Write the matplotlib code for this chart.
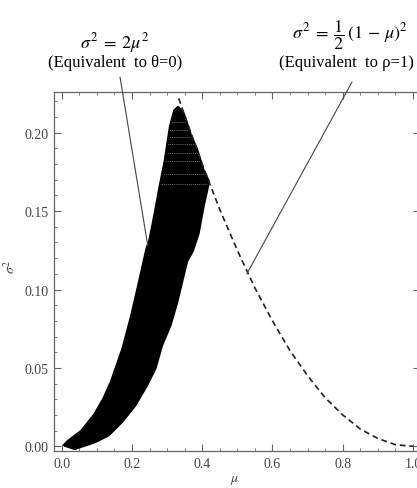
import matplotlib
matplotlib.use('Agg')
import matplotlib.pyplot as plt
from matplotlib.ticker import MultipleLocator

# === Data ===
# black cloud of feasible (mu, sigma^2) points, outline
cloud_left_mu = [0.0085, 0.018, 0.056, 0.094, 0.121, 0.142, 0.175, 0.200,
                 0.222, 0.243, 0.251, 0.266, 0.280, 0.295, 0.310, 0.322, 0.331]
cloud_left_s2 = [0.0008, 0.003, 0.0094, 0.020, 0.0306, 0.0412, 0.0624, 0.0836,
                 0.105, 0.126, 0.131, 0.148, 0.165, 0.182, 0.204, 0.214, 0.216]
cloud_right_mu = [0.346, 0.365, 0.384, 0.402, 0.417, 0.412, 0.402, 0.388,
                  0.372, 0.355, 0.341, 0.327, 0.308, 0.284, 0.265, 0.241,
                  0.208, 0.170, 0.132, 0.094, 0.037]
cloud_right_s2 = [0.212, 0.199, 0.189, 0.176, 0.169, 0.163, 0.153, 0.136,
                  0.125, 0.118, 0.105, 0.092, 0.0773, 0.0646, 0.0497, 0.039,
                  0.0263, 0.0157, 0.0072, 0.003, -0.0013]

# faint gaps between rows of points near the top of the cloud
row_gaps_s2 = [0.207, 0.202, 0.197, 0.193, 0.187, 0.182, 0.174, 0.167]

# dashed boundary sigma^2 = (1 - mu)^2 / 2
bound_mu = [0.333, 0.35, 0.40, 0.45, 0.50, 0.55, 0.60, 0.65, 0.70, 0.75,
            0.80, 0.85, 0.90, 0.95, 1.00]
bound_s2 = [0.222, 0.211, 0.180, 0.151, 0.125, 0.101, 0.080, 0.061, 0.045,
            0.031, 0.020, 0.011, 0.005, 0.001, 0.000]

# annotation targets (data coords)
left_target = (0.245, 0.128)
right_target = (0.527, 0.110)

plt.rcParams['font.family'] = ['Liberation Serif', 'DejaVu Serif']
plt.rcParams['mathtext.fontset'] = 'stix'

W, H = 417, 489
fig = plt.figure(figsize=(W / 100, H / 100), dpi=100)
ax = fig.add_axes([54 / W, 1 - 452 / H, (420 - 54) / W, (452 - 93) / H])

poly_mu = cloud_left_mu + cloud_right_mu
poly_s2 = cloud_left_s2 + cloud_right_s2
cloud, = ax.fill(poly_mu, poly_s2, color='black', lw=2.5, ec='black',
                 joinstyle='round', zorder=2)
gaps = ax.hlines(row_gaps_s2, 0.2, 0.45, colors='white', lw=0.5,
                 linestyles=(0, (1.5, 1.5)), alpha=0.6, zorder=3)
gaps.set_clip_path(cloud)

ax.plot(bound_mu, bound_s2, color='#222222', lw=1.2, ls=(0, (3.5, 2.3)), zorder=4)

ax.set_xlim(-0.022, 1.02)
ax.set_ylim(-0.003, 0.226)

ax.xaxis.set_major_locator(MultipleLocator(0.2))
ax.xaxis.set_minor_locator(MultipleLocator(0.05))
ax.yaxis.set_major_locator(MultipleLocator(0.05))
ax.yaxis.set_minor_locator(MultipleLocator(0.01))
ax.xaxis.set_major_formatter(plt.FuncFormatter(lambda v, p: f'{v:.1f}'))
ax.yaxis.set_major_formatter(plt.FuncFormatter(lambda v, p: f'{v:.2f}'))

frame_col = '#666666'
for sp in ax.spines.values():
    sp.set_color(frame_col)
    sp.set_linewidth(0.9)
ax.tick_params(which='both', direction='in', top=True, right=True,
               color=frame_col, labelcolor='#444444', labelsize=10, pad=4)
ax.tick_params(which='major', length=5, width=0.8)
ax.tick_params(which='minor', length=2.5, width=0.6)

ax.set_xlabel(r'$\mu$', fontsize=10, color='#444444')
ax.set_ylabel(r'$\sigma^2$', fontsize=10, color='#444444')
ax.xaxis.set_label_coords((235 - 54) / 366, (452 - 474) / 359)
ax.yaxis.set_label_coords((18 - 54) / 366, (452 - 267) / 359)

# annotations above the frame
fig.text(115 / W, 1 - 43 / H, r'$\sigma^2\;=\;2\mu^2$', fontsize=13,
         ha='center', va='center')
fig.text(115 / W, 1 - 63 / H, '(Equivalent  to θ=0)', fontsize=12,
         ha='center', va='center')
fig.text(350 / W, 1 - 35 / H, r'$\sigma^2\;=\;\dfrac{1}{2}\,(1\,-\,\mu)^2$',
         fontsize=13, ha='center', va='center')
fig.text(346 / W, 1 - 63 / H, '(Equivalent  to ρ=1)', fontsize=12,
         ha='center', va='center')

ax.annotate('', xy=left_target, xycoords='data',
            xytext=(120 / W, 1 - 78 / H), textcoords='figure fraction',
            arrowprops=dict(arrowstyle='-', color='#444444', lw=0.8,
                            shrinkA=0, shrinkB=0),
            annotation_clip=False, zorder=5)
ax.annotate('', xy=right_target, xycoords='data',
            xytext=(352 / W, 1 - 83 / H), textcoords='figure fraction',
            arrowprops=dict(arrowstyle='-', color='#444444', lw=0.8,
                            shrinkA=0, shrinkB=0),
            annotation_clip=False, zorder=5)

fig.savefig('out.png', dpi=100)
